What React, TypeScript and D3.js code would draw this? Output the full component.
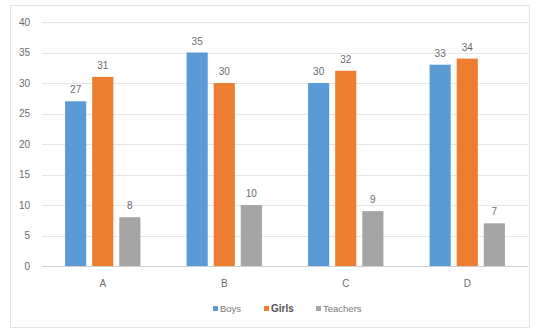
import React from "react";
import * as d3 from "d3";

const categories = ["A", "B", "C", "D"];
const seriesNames = ["Boys", "Girls", "Teachers"];
const boys = [27, 35, 30, 33];
const girls = [31, 30, 32, 34];
const teachers = [8, 10, 9, 7];
const yTicks = [0, 5, 10, 15, 20, 25, 30, 35, 40];

const colors = ["#5B9BD5", "#ED7D31", "#A5A5A5"];

export default function App() {
  const W = 538, H = 330;
  const left = 42, right = 528, top = 22, bottom = 266;
  const series = [boys, girls, teachers];
  const x = d3.scaleBand().domain(categories).range([left, right]).paddingInner(0.38).paddingOuter(0.19);
  const x1 = d3.scaleBand().domain(seriesNames).range([0, x.bandwidth()]).paddingInner(0.22);
  const y = d3.scaleLinear().domain([0, 40]).range([bottom, top]);
  const font = "'Liberation Sans', Arial, sans-serif";
  const legendItems = [
    { name: "Boys", x: 213, bold: false },
    { name: "Girls", x: 264, bold: true },
    { name: "Teachers", x: 316, bold: false },
  ];
  return (
    <svg width={W} height={H} style={{ position: "absolute", left: 0, top: 0 }} fontFamily={font}>
      <rect x={0} y={0} width={W} height={H} fill="#fff" />
      <rect x={10.5} y={5.5} width={519} height={322} fill="none" stroke="#e4e4e4" />
      {yTicks.map((t) => (
        <g key={t}>
          <line x1={left} x2={right} y1={Math.round(y(t)) + 0.5} y2={Math.round(y(t)) + 0.5} stroke={t === 0 ? "#d0d0d0" : "#e6e6e6"} />
          <text x={30} y={y(t) + 3.5} textAnchor="end" fontSize={10} fill="#6b6b6b">{t}</text>
        </g>
      ))}
      {categories.map((c, i) => (
        <g key={c}>
          {series.map((s, j) => {
            const bx = (x(c) as number) + (x1(seriesNames[j]) as number);
            return (
              <g key={j}>
                <rect x={bx} y={y(s[i])} width={x1.bandwidth()} height={bottom - y(s[i])} fill={colors[j]} />
                <text x={bx + x1.bandwidth() / 2} y={y(s[i]) - 8} textAnchor="middle" fontSize={10} fill="#6b6b6b">{s[i]}</text>
              </g>
            );
          })}
          <text x={(x(c) as number) + x.bandwidth() / 2} y={287} textAnchor="middle" fontSize={10} fill="#6b6b6b">{c}</text>
        </g>
      ))}
      {legendItems.map((l, j) => (
        <g key={l.name}>
          <rect x={l.x} y={306} width={5} height={5} fill={colors[j]} />
          <text x={l.x + 7} y={312} fontSize={l.bold ? 10 : 9.5} fontWeight={l.bold ? "bold" : "normal"} fill={l.bold ? "#555" : "#7a7a7a"}>{l.name}</text>
        </g>
      ))}
    </svg>
  );
}
